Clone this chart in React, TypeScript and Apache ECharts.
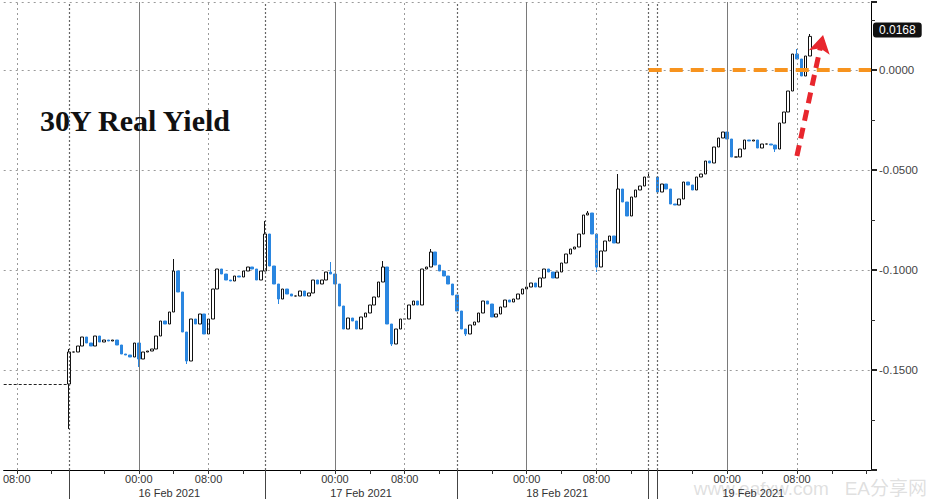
import React, { useEffect, useRef } from 'react';
import * as echarts from 'echarts';

// ---- data ----
// x axis: compressed intraday slots (30 min each), category axis
const SLOT_COUNT = 200;
const firstSlot = 15;
const prevClose = -0.157;

// closing yield of each slot, starting at firstSlot (null = no trading)
const closes: (number | null)[] = [
  -0.1410, -0.1410, -0.1380, -0.1335, -0.1365, -0.1380, -0.1330, -0.1360, -0.1350, -0.1355,
  -0.1350, -0.1375, -0.1420, -0.1425, -0.1435, -0.1365, -0.1445, -0.1410, -0.1405, -0.1395,
  -0.1330, -0.1255, -0.1270, -0.1210, -0.1005, -0.1110, -0.1310, -0.1455, -0.1245, -0.1270,
  -0.1220, -0.1320, -0.1245, -0.1095, -0.0995, -0.1020, -0.1050, -0.1055, -0.1030, -0.1035,
  -0.1005, -0.0985, -0.0995, -0.1050, -0.1005, -0.0820, -0.0980, -0.1070, -0.1145, -0.1095,
  -0.1120, -0.1130, -0.1130, -0.1105, -0.1130, -0.1115, -0.1050, -0.1070, -0.1050, -0.1010,
  -0.1020, -0.1070, -0.1180, -0.1295, -0.1240, -0.1255, -0.1295, -0.1235, -0.1215, -0.1175,
  -0.1135, -0.1060, -0.0985, -0.1270, -0.1370, -0.1295, -0.1245, -0.1245, -0.1175, -0.1155,
  -0.1175, -0.0995, -0.0985, -0.0910, -0.0975, -0.1005, -0.1030, -0.1070, -0.1125, -0.1205,
  -0.1295, -0.1320, -0.1275, -0.1260, -0.1215, -0.1155, -0.1170, -0.1235, -0.1220, -0.1185,
  -0.1150, -0.1160, -0.1145, -0.1120, -0.1095, -0.1085, -0.1065, -0.1085, -0.1040, -0.0995,
  -0.1010, -0.1040, -0.1010, -0.0965, -0.0920, -0.0895, -0.0885, -0.0820, -0.0725, -0.0715,
  -0.0820, -0.0985, -0.0905, -0.0855, -0.0830, -0.0865, -0.0595, -0.0660, -0.0730, -0.0635,
  -0.0600, -0.0580, -0.0535, -0.0535, null, -0.0610, -0.0570, -0.0595, -0.0670, -0.0675,
  -0.0645, -0.0560, -0.0575, -0.0600, -0.0535, -0.0520, -0.0455, -0.0465, -0.0385, -0.0340,
  -0.0310, -0.0345, -0.0435, -0.0435, -0.0395, -0.0350, -0.0355, -0.0350, -0.0390, -0.0370,
  -0.0370, -0.0375, -0.0395, -0.0265, -0.0210, -0.0105, 0.0080, 0.0055, -0.0030, 0.0070,
  0.0168,
];

// intraday extremes beyond the candle body: [slot, value]
const highs: [number, number][] = [
  [15, -0.1395], [39, -0.0945], [60, -0.0755], [75, -0.0960], [87, -0.0955], [98, -0.0895],
  [134, -0.0705], [141, -0.0520], [148, -0.0510], [182, 0.0105], [185, 0.0180],
];
const lows: [number, number][] = [
  [15, -0.1795], [31, -0.1485], [42, -0.1470], [63, -0.1170], [89, -0.1380], [106, -0.1330],
  [136, -0.1010], [177, -0.0410],
];

const timeLabels: Record<number, string> = {
  3: '08:00', 31: '00:00', 47: '08:00', 76: '00:00', 92: '08:00',
  120: '00:00', 136: '08:00', 166: '00:00', 182: '08:00',
};
const dateLabels: Record<number, string> = {
  38: '16 Feb 2021', 82: '17 Feb 2021', 127: '18 Feb 2021', 172: '19 Feb 2021',
};
const midnightSlots = [31, 76, 120, 166];
const morningSlots = [3, 47, 92, 136, 182];
const sessionSlots = [15, 60, 104, 148, 150];
const fourHourTickSlots = [3, 11, 23, 31, 39, 47, 55, 68, 76, 84, 92, 100, 112, 120, 128, 136, 144, 158, 166, 174, 182, 190, 198];

const targetLevel = 0.0;
const targetStartSlot = 148;
const arrowFrom: [number, number] = [182, -0.043];
const arrowTo: [number, number] = [188, 0.0175];

const yTicks = { min: -0.2, max: 0.034, interval: 0.05 };

export default function App() {
  const ref = useRef<HTMLDivElement>(null);

  useEffect(() => {
    if (!ref.current) return;
    const chart = echarts.init(ref.current, undefined, { renderer: 'svg' });

    const categories = Array.from({ length: SLOT_COUNT }, (_, i) => String(i));
    const highMap = new Map(highs);
    const lowMap = new Map(lows);
    const candleData: any[] = [];
    let last = prevClose;
    let lastClose = prevClose;
    for (let i = 0; i < SLOT_COUNT; i++) {
      const k = i - firstSlot;
      const c = k >= 0 && k < closes.length ? closes[k] : null;
      if (c == null) {
        candleData.push('-');
        continue;
      }
      const o = last;
      let lo = Math.min(o, c);
      let hi = Math.max(o, c);
      if (highMap.has(i)) hi = Math.max(hi, highMap.get(i)!);
      if (lowMap.has(i)) lo = Math.min(lo, lowMap.get(i)!);
      candleData.push([o, c, lo, hi]);
      last = c;
      lastClose = c;
    }

    const tickSet = new Set(fourHourTickSlots);
    const sepSet = new Set(sessionSlots);
    const font = 'Liberation Sans, Arial, sans-serif';

    const vLines: any[] = [
      ...morningSlots.map((s) => ({ xAxis: s, lineStyle: { color: '#9a9a9a', width: 1, type: [2, 3] } })),
      ...midnightSlots.map((s) => ({ xAxis: s, lineStyle: { color: '#7a7a7a', width: 1, type: 'solid' } })),
      ...sessionSlots.map((s) => ({ xAxis: s, lineStyle: { color: '#666', width: 1.2, type: [2, 2] } })),
    ];

    const isMajor = (v: number) =>
      Math.abs(v / yTicks.interval - Math.round(v / yTicks.interval)) < 1e-6;

    chart.setOption({
      animation: false,
      backgroundColor: '#ffffff',
      title: {
        text: '30Y Real Yield',
        left: 40,
        top: 105,
        padding: 0,
        textStyle: { fontFamily: 'Liberation Serif, Times New Roman, serif', fontWeight: 'bold', fontSize: 30, color: '#111' },
      },
      grid: { left: 0, right: 58, top: 2, bottom: 29, containLabel: false },
      xAxis: [
        {
          type: 'category',
          data: categories,
          boundaryGap: false,
          position: 'bottom',
          axisLine: { show: true, onZero: false, lineStyle: { color: '#000', width: 1 } },
          axisTick: { show: true, interval: (i: number) => tickSet.has(i), length: 4, lineStyle: { color: '#333' } },
          axisLabel: {
            interval: (i: number) => timeLabels[i] !== undefined,
            formatter: (_v: string, i: number) => timeLabels[i] ?? '',
            fontSize: 11, color: '#333', fontFamily: font, margin: 3,
          },
          splitLine: { show: false },
        },
        {
          type: 'category',
          data: categories,
          boundaryGap: false,
          position: 'bottom',
          axisLine: { show: false, onZero: false },
          axisTick: { show: true, interval: (i: number) => sepSet.has(i), length: 29, lineStyle: { color: '#444' } },
          axisLabel: {
            interval: (i: number) => dateLabels[i] !== undefined,
            formatter: (_v: string, i: number) => dateLabels[i] ?? '',
            fontSize: 11, color: '#333', fontFamily: font, margin: 17,
          },
          splitLine: { show: false },
        },
      ],
      yAxis: {
        type: 'value',
        position: 'right',
        min: yTicks.min,
        max: yTicks.max,
        interval: yTicks.interval,
        axisLine: { show: true, lineStyle: { color: '#000', width: 1 } },
        axisTick: { show: true, length: 6, lineStyle: { color: '#222', width: 2 } },
        minorTick: { show: true, splitNumber: 2, length: 4, lineStyle: { color: '#333' } },
        axisLabel: {
          formatter: (v: number) => (v < -0.19 || !isMajor(v) ? '' : v.toFixed(4)),
          margin: 8,
          fontSize: 11.5,
          color: '#444',
          fontFamily: font,
        },
        splitLine: { show: true, lineStyle: { color: '#9a9a9a', width: 1, type: [2, 4] } },
      },
      series: [
        {
          type: 'candlestick',
          data: candleData,
          barWidth: 3,
          itemStyle: {
            color: '#ffffff', borderColor: '#111111',
            color0: '#2a86e0', borderColor0: '#2a86e0',
            borderWidth: 1,
          },
          markLine: {
            silent: true,
            symbol: 'none',
            animation: false,
            label: { show: false },
            data: [
              ...vLines,
              [
                { coord: [0, prevClose], lineStyle: { color: '#222', width: 1, type: [3, 2] } },
                { coord: [firstSlot, prevClose] },
              ],
              [
                { coord: [targetStartSlot, targetLevel], lineStyle: { color: '#f7931e', width: 4, type: [13, 8] } },
                { coord: [SLOT_COUNT - 1, targetLevel] },
              ],
              [
                { coord: arrowFrom, symbol: 'none', lineStyle: { color: '#e8262d', width: 5, type: [11, 7] } },
                { coord: arrowTo, symbol: 'arrow', symbolSize: [16, 18] },
              ],
              {
                yAxis: lastClose,
                lineStyle: { color: 'rgba(0,0,0,0)', width: 1 },
                label: {
                  show: true,
                  position: 'end',
                  distance: 2,
                  formatter: lastClose.toFixed(4),
                  backgroundColor: '#111',
                  color: '#fff',
                  fontSize: 12,
                  fontFamily: font,
                  padding: [2, 6, 1, 6],
                  borderRadius: 3,
                },
              },
            ],
          },
        },
      ],
      graphic: [
        {
          type: 'text',
          right: 2,
          bottom: 1,
          silent: true,
          style: {
            text: 'www.eafxw.com   EA分享网',
            fontSize: 19,
            fontFamily: 'Liberation Sans, Noto Sans CJK SC, sans-serif',
            fill: 'rgba(185,185,185,0.45)',
          },
        },
      ],
    });

    return () => chart.dispose();
  }, []);

  return (
    <div
      ref={ref}
      style={{ position: 'fixed', left: 0, top: 0, width: 929, height: 499, background: '#fff' }}
    />
  );
}
